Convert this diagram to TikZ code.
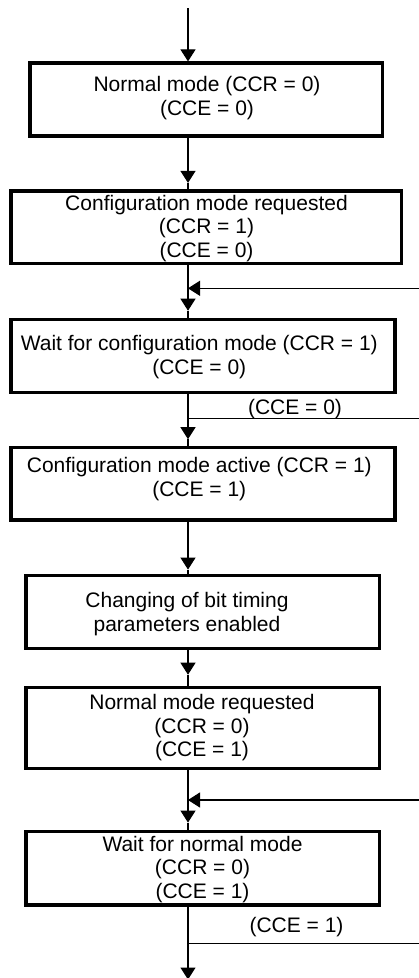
\documentclass[tikz,border=0pt]{standalone}
\usepackage{fontspec}
\setmainfont{Liberation Sans}
\usetikzlibrary{arrows.meta,calc}
\begin{document}
\begin{tikzpicture}[x=1pt,y=-1pt,
  box/.style={draw=black, line width=3.2pt, inner sep=0pt},
  txt/.style={anchor=base, align=center, inner sep=0pt, font=\fontsize{21}{23.5}\selectfont},
  conn/.style={draw=black, line width=1.1pt},
  tip/.style={-{Triangle[length=12pt,width=15pt]}}]
\useasboundingbox (0,0) rectangle (419,978);
\coordinate (ax) at (188,0);
% boxes
\node[box, minimum width=352.5pt, minimum height=73pt]   (b1) at (206.25,99.5) {};
\node[box, minimum width=390.7pt, minimum height=72.3pt] (b2) at (206.35,227.15) {};
\node[box, minimum width=384pt,   minimum height=73.4pt] (b3) at (203,356) {};
\node[box, minimum width=384pt,   minimum height=72.7pt] (b4) at (203,483.65) {};
\node[box, minimum width=353.3pt, minimum height=72.6pt] (b5) at (202.65,612) {};
\node[box, minimum width=353.3pt, minimum height=81pt]   (b6) at (202.65,727.8) {};
\node[box, minimum width=353.3pt, minimum height=73.3pt] (b7) at (202.65,868.35) {};
% texts (anchor = baseline of last line)
\node[txt] (t1) at (207,115) {Normal mode (CCR = 0)\\(CCE = 0)};
\node[txt] (t2) at (206.5,257.3) {Configuration mode requested\\(CCR = 1)\\(CCE = 0)};
\node[txt] (t3) at (199.3,374) {Wait for configuration mode (CCR = 1)\\(CCE = 0)};
\node[txt] (t4) at (199.3,496) {Configuration mode active (CCR = 1)\\(CCE = 1)};
\node[txt] (t5) at (187,631) {Changing of bit timing\\parameters enabled};
\node[txt] (t6) at (202,756.7) {Normal mode requested\\(CCR = 0)\\(CCE = 1)};
\node[txt] (t7) at (202.5,898.3) {Wait for normal mode\\(CCR = 0)\\(CCE = 1)};
\node[txt] (l1) at (295,414) {(CCE = 0)};
\node[txt] (l2) at (296.5,932.7) {(CCE = 1)};
% coordinates
\coordinate (top) at (188,8);
\coordinate (p2) at ($(b2.north -| ax)+(0,-6.5)$);
\coordinate (p3) at ($(b3.north -| ax)+(0,-7)$);
\coordinate (p4) at ($(b4.north -| ax)+(0,-6.5)$);
\coordinate (p5) at ($(b5.north -| ax)+(0,-4.5)$);
\coordinate (p6) at ($(b6.north -| ax)+(0,-11)$);
\coordinate (p7) at ($(b7.north -| ax)+(0,-7.5)$);
\coordinate (pend) at (188,979.5);
\coordinate (m1) at (188,288.3);
\coordinate (r1) at (420,288.3);
\coordinate (m2) at (188,800);
\coordinate (r2) at (420,800);
\coordinate (h1) at (188,418.3);
\coordinate (e1) at (420,418.3);
\coordinate (h2) at (188,943.3);
\coordinate (e2) at (420,943.3);
% connectors
\draw[conn,tip] (top) -- (b1.north -| ax);
\draw[conn,tip] (b1.south -| ax) -- (p2);
\draw[conn] (p2) -- (b2.north -| ax);
\draw[conn,tip] (b2.south -| ax) -- (p3);
\draw[conn] (p3) -- (b3.north -| ax);
\draw[conn,tip] (r1) -- (m1);
\draw[conn,tip] (b3.south -| ax) -- (p4);
\draw[conn] (p4) -- (b4.north -| ax);
\draw[conn] (h1) -- (e1);
\draw[conn,tip] (b4.south -| ax) -- (p5);
\draw[conn] (p5) -- (b5.north -| ax);
\draw[conn,tip] (b5.south -| ax) -- (p6);
\draw[conn] (p6) -- (b6.north -| ax);
\draw[conn,tip] (b6.south -| ax) -- (p7);
\draw[conn] (p7) -- (b7.north -| ax);
\draw[conn,tip] (r2) -- (m2);
\draw[conn,tip] (b7.south -| ax) -- (pend);
\draw[conn] (h2) -- (e2);
\end{tikzpicture}
\end{document}
